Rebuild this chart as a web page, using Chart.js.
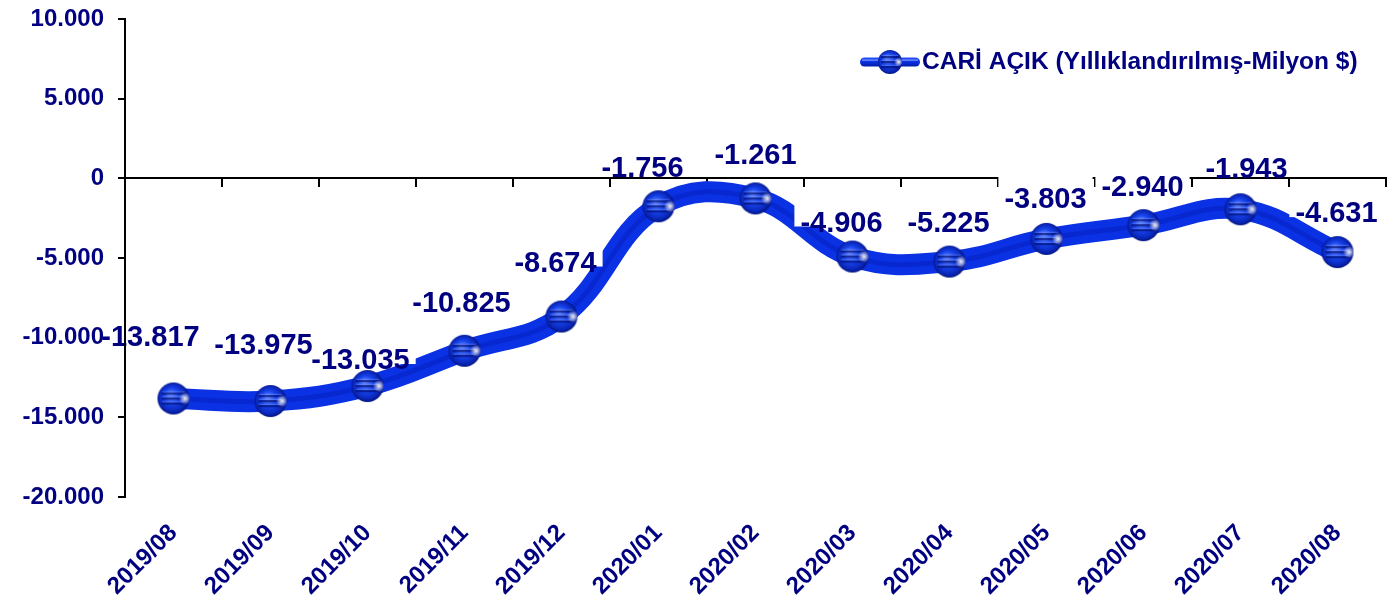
<!DOCTYPE html>
<html><head><meta charset="utf-8">
<script src="https://cdn.jsdelivr.net/npm/chart.js@4"></script>
<style>html,body{margin:0;padding:0;background:#fff}canvas{display:block}</style>
</head><body>
<canvas id="c" width="1397" height="602"></canvas>
<script>
const categories = ['2019/08','2019/09','2019/10','2019/11','2019/12','2020/01','2020/02','2020/03','2020/04','2020/05','2020/06','2020/07','2020/08'];
const cariAcik = [-13817,-13975,-13035,-10825,-8674,-1756,-1261,-4906,-5225,-3803,-2940,-1943,-4631];
const seriesName = 'CARİ AÇIK (Yıllıklandırılmış-Milyon $)';
const yMin = -20000, yMax = 10000, yStep = 5000;
const labelOffsets = [[-23,-62],[-7,-57],[-7,-27],[-3,-49],[-6,-55],[-16,-39],[0,-44],[-11,-35],[-1,-40],[-1,-41],[-1,-39],[6,-41],[-1,-40]];

const NAVY = '#000080';
const FONT = "'Liberation Sans', Arial, sans-serif";

function fmt(v){
  const s = Math.abs(Math.round(v)).toString().replace(/\B(?=(\d{3})+(?!\d))/g,'.');
  return (v<0?'-':'')+s;
}

function makeSphere(r){
  const size = r*2+2;
  const cv = document.createElement('canvas');
  cv.width = size; cv.height = size;
  const g = cv.getContext('2d');
  const c = size/2;
  g.save();
  g.beginPath(); g.arc(c,c,r,0,Math.PI*2); g.closePath();
  const rg = g.createRadialGradient(c-3,c-4,1,c,c,r+1);
  rg.addColorStop(0,'#5f82ff');
  rg.addColorStop(0.45,'#1642ea');
  rg.addColorStop(0.8,'#0a26b8');
  rg.addColorStop(1,'#000c66');
  g.fillStyle = rg; g.fill();
  g.clip();
  [-6,-1,4].forEach(o=>{
    g.fillStyle='rgba(0,12,110,0.65)';
    g.fillRect(c-r*0.75,c+o,r*1.5,2.2);
    g.fillStyle='rgba(140,165,255,0.45)';
    g.fillRect(c-r*0.7,c+o-1.2,r*1.4,1);
  });
  const hg = g.createRadialGradient(c+r*0.72,c,0,c+r*0.72,c,r*0.38);
  hg.addColorStop(0,'rgba(255,255,255,0.95)');
  hg.addColorStop(1,'rgba(255,255,255,0)');
  g.fillStyle = hg;
  g.fillRect(0,0,size,size);
  g.restore();
  return cv;
}
const sphere = makeSphere(16);
const legendSphere = makeSphere(12);

const labelPlugin = {
  id:'dataLabels',
  afterDatasetsDraw(chart){
    const ctx = chart.ctx;
    const meta = chart.getDatasetMeta(0);
    ctx.save();
    ctx.font = 'bold 29px ' + FONT;
    ctx.textAlign = 'center';
    ctx.textBaseline = 'alphabetic';
    const items = meta.data.map((p,i)=>{
      const txt = fmt(cariAcik[i]);
      const off = labelOffsets[i];
      return {txt, cx:p.x+off[0], base:p.y+off[1]+10, w:ctx.measureText(txt).width};
    });
    ctx.fillStyle = '#fff';
    items.forEach(it=>ctx.fillRect(it.cx - it.w/2 - 6, it.base - 32, it.w + 12, 27));
    ctx.fillStyle = NAVY;
    items.forEach(it=>ctx.fillText(it.txt, it.cx, it.base));
    ctx.restore();
  }
};

const legendPlugin = {
  id:'customLegend',
  afterDraw(chart){
    const ctx = chart.ctx;
    ctx.save();
    const y = 62;
    const lg = ctx.createLinearGradient(0,y-5,0,y+5);
    lg.addColorStop(0,'#2a55ff'); lg.addColorStop(0.5,'#0a30e0'); lg.addColorStop(1,'#001aa0');
    ctx.fillStyle = lg;
    ctx.beginPath();
    ctx.roundRect ? ctx.roundRect(860,y-4.5,60,9,4.5) : ctx.rect(860,y-4.5,60,9);
    ctx.fill();
    ctx.fillStyle='rgba(170,190,255,0.7)';
    ctx.fillRect(862,y-2.5,56,1.2);
    ctx.drawImage(legendSphere, 890-legendSphere.width/2, y-legendSphere.height/2);
    ctx.font = 'bold 24.5px ' + FONT;
    ctx.fillStyle = NAVY;
    ctx.textAlign='left';
    ctx.textBaseline='middle';
    ctx.fillText(seriesName, 922, y);
    ctx.restore();
  }
};

new Chart(document.getElementById('c'), {
  type:'line',
  data:{
    labels: categories,
    datasets:[
      {
        label: seriesName,
        data: cariAcik,
        borderColor:'rgba(0,0,140,0.22)',
        borderWidth:5,
        tension:0.4,
        pointStyle: sphere,
        pointRadius:16,
        pointHoverRadius:16,
        xAxisID:'x', yAxisID:'y'
      },
      {
        label: seriesName + ' tube',
        data: cariAcik,
        borderColor:'#0a32e4',
        borderWidth:21,
        tension:0.4,
        pointRadius:0,
        pointHoverRadius:0,
        borderCapStyle:'round',
        xAxisID:'x', yAxisID:'y'
      }
    ]
  },
  options:{
    responsive:false,
    animation:false,
    events:[],
    layout:{autoPadding:false, padding:{top:19,right:11,left:0,bottom:0}},
    plugins:{legend:{display:false},tooltip:{enabled:false}},
    scales:{
      x:{
        type:'category',
        position:'bottom',
        offset:true,
        grid:{display:false,drawTicks:false},
        border:{display:false},
        ticks:{color:NAVY,font:{family:FONT,size:24,weight:'bold'},minRotation:45,maxRotation:45,autoSkip:false,padding:22},
        afterFit(s){ s.height = 105; s.paddingLeft = 0; s.paddingRight = 0; }
      },
      x2:{
        type:'category',
        position:{y:0},
        offset:true,
        grid:{offset:true,drawOnChartArea:false,drawTicks:true,tickLength:8,color:'#000',lineWidth:2},
        border:{display:true,color:'#000',width:2},
        ticks:{display:false},
        afterFit(s){ s.height = 0; s.paddingLeft = 0; s.paddingRight = 0; }
      },
      y:{
        type:'linear',
        min:yMin, max:yMax,
        grid:{drawOnChartArea:false,drawTicks:true,tickLength:7,color:'#000',lineWidth:2},
        border:{display:true,color:'#000',width:2,z:1},
        ticks:{stepSize:yStep,color:NAVY,font:{family:FONT,size:24,weight:'bold'},padding:14,z:1,callback:v=>fmt(v)},
        afterFit(s){ s.width = 125; s.paddingTop = 0; s.paddingBottom = 0; }
      }
    }
  },
  plugins:[labelPlugin, legendPlugin]
});
</script>
</body></html>
